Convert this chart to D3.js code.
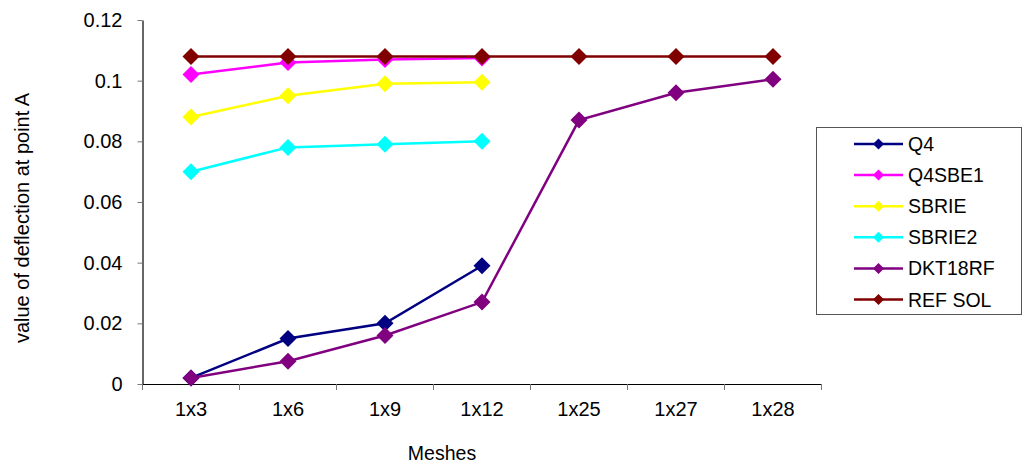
<!DOCTYPE html>
<html>
<head>
<meta charset="utf-8">
<script src="https://cdn.jsdelivr.net/npm/d3@7"></script>
<style>
  html, body { margin: 0; padding: 0; background: #fff; }
  svg { display: block; font-family: "Liberation Sans", Arial, sans-serif; }
</style>
</head>
<body>
<svg id="chart" width="1023" height="464"></svg>
<script>
// Mesh refinements along the x axis
const meshes = ["1x3", "1x6", "1x9", "1x12", "1x25", "1x27", "1x28"];

// Deflection at point A for each element type (null = not computed)
const q4      = [0.002, 0.015, 0.020, 0.039, null, null, null];
const q4sbe1  = [0.102, 0.106, 0.107, 0.1075, null, null, null];
const sbrie   = [0.088, 0.095, 0.099, 0.0995, null, null, null];
const sbrie2  = [0.070, 0.078, 0.079, 0.080, null, null, null];
const dkt18rf = [0.002, 0.0075, 0.016, 0.027, 0.087, 0.096, 0.1005];
const refSol  = [0.108, 0.108, 0.108, 0.108, 0.108, 0.108, 0.108];

const seriesNames  = ["Q4", "Q4SBE1", "SBRIE", "SBRIE2", "DKT18RF", "REF SOL"];
const seriesValues = [q4, q4sbe1, sbrie, sbrie2, dkt18rf, refSol];
const seriesColors = ["#000080", "#ff00ff", "#ffff00", "#00ffff", "#800080", "#800000"];

const yTickValues = [0, 0.02, 0.04, 0.06, 0.08, 0.1, 0.12];
const yTickLabels = ["0", "0.02", "0.04", "0.06", "0.08", "0.1", "0.12"];

const svg = d3.select("#chart");

const x = d3.scaleBand().domain(meshes).range([142.5, 821.5]).padding(0);
const y = d3.scaleLinear().domain([0, 0.12]).range([384, 20]);

// Y axis
const yAxis = svg.append("g")
  .attr("transform", `translate(${x.range()[0]},0)`)
  .call(d3.axisLeft(y)
    .tickValues(yTickValues)
    .tickFormat((d, i) => yTickLabels[i])
    .tickSize(5)
    .tickSizeOuter(0)
    .tickPadding(15));
yAxis.select(".domain").attr("stroke", "#000").attr("stroke-width", 1.2);
yAxis.selectAll(".tick line").attr("stroke", "#777");
yAxis.selectAll(".tick text")
  .attr("font-size", 20)
  .attr("fill", "#000")
  .attr("font-family", "Liberation Sans, Arial, sans-serif");

// X axis: labels at category centres, tick marks between categories
const xAxis = svg.append("g")
  .attr("transform", `translate(0,${y(0)})`)
  .call(d3.axisBottom(x).tickSize(0).tickSizeOuter(0).tickPadding(18));
xAxis.select(".domain").attr("stroke", "#000").attr("stroke-width", 1.2);
xAxis.selectAll(".tick text")
  .attr("font-size", 20)
  .attr("fill", "#000")
  .attr("font-family", "Liberation Sans, Arial, sans-serif");

const boundaries = meshes.map(m => x(m)).concat([x.range()[1]]);
xAxis.selectAll("line.sep")
  .data(boundaries)
  .enter().append("line")
  .attr("class", "sep")
  .attr("x1", d => d).attr("x2", d => d)
  .attr("y1", 0).attr("y2", 6)
  .attr("stroke", "#777");

// Axis titles
svg.append("text")
  .attr("x", 442).attr("y", 460)
  .attr("text-anchor", "middle")
  .attr("font-size", 19.5)
  .text("Meshes");

svg.append("text")
  .attr("transform", "translate(29,218) rotate(-90)")
  .attr("text-anchor", "middle")
  .attr("font-size", 20)
  .text("value of deflection at point A");

// Series lines and diamond markers
const line = d3.line()
  .defined(d => d.v !== null)
  .x(d => x(d.m) + x.bandwidth() / 2)
  .y(d => y(d.v));

const diamond = (r) => `M0,${-r}L${r},0L0,${r}L${-r},0Z`;

seriesValues.forEach((vals, i) => {
  const pts = meshes.map((m, j) => ({ m, v: vals[j] }));
  const g = svg.append("g");
  g.append("path")
    .datum(pts)
    .attr("d", line)
    .attr("fill", "none")
    .attr("stroke", seriesColors[i])
    .attr("stroke-width", 2.5);
  g.selectAll("path.mk")
    .data(pts.filter(d => d.v !== null))
    .enter().append("path")
    .attr("class", "mk")
    .attr("d", diamond(8.5))
    .attr("transform", d => `translate(${x(d.m) + x.bandwidth() / 2},${y(d.v)})`)
    .attr("fill", seriesColors[i]);
});

// Legend
const legend = svg.append("g");
legend.append("rect")
  .attr("x", 816.5).attr("y", 127.5)
  .attr("width", 205).attr("height", 187)
  .attr("fill", "#fff")
  .attr("stroke", "#555")
  .attr("stroke-width", 1);

const rowY = d3.scalePoint().domain(seriesNames).range([144, 299.5]);
seriesNames.forEach((name, i) => {
  const yy = rowY(name);
  legend.append("line")
    .attr("x1", 854).attr("x2", 903)
    .attr("y1", yy).attr("y2", yy)
    .attr("stroke", seriesColors[i])
    .attr("stroke-width", 2.5);
  legend.append("path")
    .attr("d", diamond(5.5))
    .attr("transform", `translate(878.5,${yy})`)
    .attr("fill", seriesColors[i]);
  legend.append("text")
    .attr("x", 908).attr("y", yy)
    .attr("dy", "0.36em")
    .attr("font-size", 19.5)
    .text(name);
});
</script>
</body>
</html>
